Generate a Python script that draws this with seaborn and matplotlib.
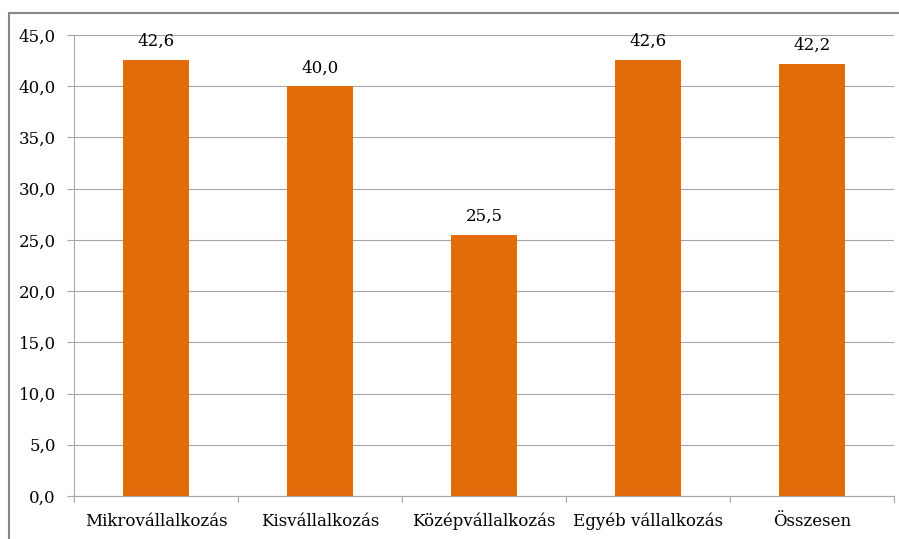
import matplotlib
matplotlib.use("Agg")
import matplotlib.pyplot as plt
import seaborn as sns
import pandas as pd
from matplotlib.patches import Rectangle

categories = ["Mikrovállalkozás", "Kisvállalkozás", "Középvállalkozás", "Egyéb vállalkozás", "Összesen"]
values = [42.6, 40.0, 25.5, 42.6, 42.2]
yticks = [0, 5, 10, 15, 20, 25, 30, 35, 40, 45]

sns.set_theme(style="white")
plt.rcParams['font.family'] = ['DejaVu Serif']

df = pd.DataFrame({"cat": categories, "val": values})

W, H = 899, 539
fig = plt.figure(figsize=(W / 100, H / 100), dpi=100)
ax = fig.add_axes([74 / W, 1 - 496 / H, (894 - 74) / W, (496 - 35) / H])

sns.barplot(data=df, x="cat", y="val", color="#E36C0A", saturation=1, width=0.4,
            linewidth=0, ax=ax)

FS = 12
ax.set_ylim(0, 45)
ax.set_xlim(-0.5, len(categories) - 0.5)
ax.set_yticks(yticks)
ax.set_yticklabels([f"{v:.1f}".replace(".", ",") for v in yticks], fontsize=FS, color="black")
ax.yaxis.grid(True, color="#A6A6A6", linewidth=0.8)
ax.set_axisbelow(True)
ax.set_xlabel("")
ax.set_ylabel("")
ax.set_xticks(range(len(categories)))
ax.set_xticklabels(categories, fontsize=FS, color="black")
ax.tick_params(axis="x", length=0, pad=12)
ax.tick_params(axis="y", length=5, color="#A6A6A6", width=0.8, left=True, pad=8)

# category boundary tick marks
for b in [i - 0.5 for i in range(len(categories) + 1)]:
    ax.plot([b, b], [0, -0.013], transform=ax.get_xaxis_transform(), color="#A6A6A6",
            linewidth=0.8, clip_on=False)

for s in ["top", "right"]:
    ax.spines[s].set_visible(False)
for s in ["left", "bottom"]:
    ax.spines[s].set_color("#A6A6A6")
    ax.spines[s].set_linewidth(0.8)

for i, v in enumerate(values):
    ax.annotate(f"{v:.1f}".replace(".", ","), (i, v), xytext=(0, 7), textcoords="offset points",
                ha="center", va="bottom", fontsize=FS, color="black")

# outer chart border
fig.patches.append(Rectangle((9 / W, -0.01), 1.0, 1 - 13 / H + 0.01, transform=fig.transFigure,
                             fill=False, edgecolor="#868686", linewidth=1.5))

fig.savefig("out.png", dpi=100)
